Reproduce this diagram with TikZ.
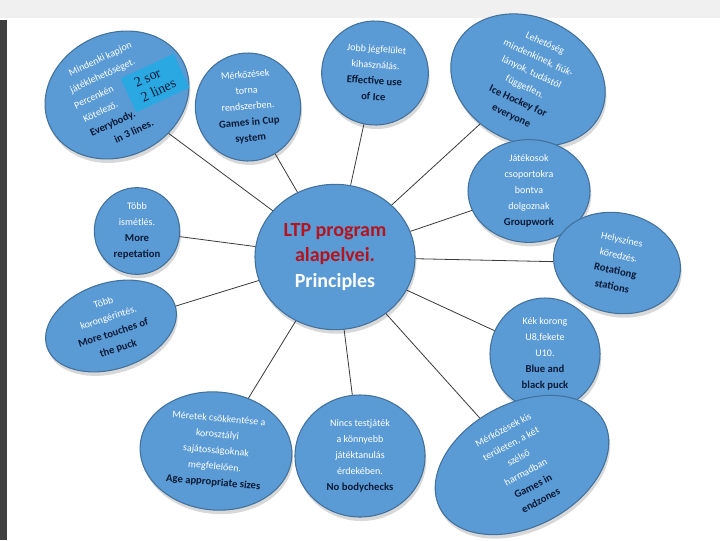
\documentclass[tikz,border=0pt]{standalone}
\usepackage{fontspec}
\setmainfont{Carlito}
\newfontfamily\boxfont{Liberation Serif}
\usepackage{xcolor}
\usetikzlibrary{shapes.geometric,shadows}

\definecolor{bubblefill}{HTML}{5B9BD5}
\definecolor{bubbleline}{HTML}{41719C}
\definecolor{entext}{HTML}{0B1A36}
\definecolor{titlered}{HTML}{B3141E}
\definecolor{boxblue}{HTML}{2AA8E2}
\definecolor{linkgray}{HTML}{3A3A3A}

% english line of a bubble
\newcommand{\en}[1]{{\color{entext}\bfseries\fontsize{8}{12}\selectfont #1}}
% room kept free for the box
\newcommand{\gap}[1]{\rule{#1}{0pt}}

\begin{document}
\begin{tikzpicture}[x=0.75pt,y=-0.75pt,
	bubble/.style={draw=bubbleline, line width=0.8pt, fill=bubblefill, ellipse, inner sep=0pt,
		align=center, text=white, font=\fontsize{7.5}{12}\selectfont,
		drop shadow={shadow xshift=1pt, shadow yshift=-3pt, opacity=0.3}},
	link/.style={draw=linkgray, line width=0.6pt}]

			\useasboundingbox (0,0) rectangle (720,540);
			\fill[white] (0,0) rectangle (720,540);
			\fill[gray!12] (0,0) rectangle (720,18);
			\fill[black!75] (0,20) rectangle (7,540);

			\node[bubble, minimum width=120pt, minimum height=109pt, font=\bfseries\fontsize{15}{19}\selectfont] (c) at (335,257)
				{\textcolor{titlered}{LTP program}\\ \textcolor{titlered}{alapelvei.}\\ Principles};

			\node[bubble, minimum width=111pt, minimum height=90pt, rotate=25] (n1) at (117,95)
				{Mindenki kapjon\\ játéklehetőséget.\gap{1em}\\ Percenkén\gap{4.4em}\\ Kötelező.\gap{4.4em}\\
				\en{Everybody.}\gap{3.2em}\\ \en{in 3 lines.}};
			\node[fill=boxblue, rotate=25, inner sep=2pt, minimum width=44pt, minimum height=28pt, align=left,
				text=entext, font=\boxfont\fontsize{10.5}{12}\selectfont] (sorbox) at (155,83) {2 sor\\2 lines};

			\node[bubble, minimum width=79pt, minimum height=81pt, rotate=5] (n2) at (248,107)
				{Mérkőzések\\ torna\\ rendszerben.\\ \en{Games in Cup}\\ \en{system}};
			\node[bubble, minimum width=80pt, minimum height=78pt, rotate=-4] (n3) at (375,73)
				{Jobb jégfelület\\ kihasználás.\\ \en{Effective use}\\ \en{of Ice}};
			\node[bubble, minimum width=120pt, minimum height=94pt, rotate=-25] (n4) at (528,80)
				{Lehetőség\\ mindenkinek, fiúk-\\ lányok, tudástól\\ független.\\ \en{Ice Hockey for}\\ \en{everyone}};
			\node[bubble, minimum width=91.5pt, minimum height=69pt] (n5) at (529,191)
				{Játékosok\\ csoportokra\\ bontva\\ dolgoznak\\ \en{Groupwork}};
			\node[bubble, minimum width=96pt, minimum height=75pt, rotate=-12] (n6) at (617,263)
				{Helyszínes\\ köredzés.\\ \en{Rotationg}\\ \en{stations}};
			\node[bubble, minimum width=82.5pt, minimum height=84pt] (n7) at (545,354)
				{Kék korong\\ U8,fekete\\ U10.\\ \en{Blue and}\\ \en{black puck}};
			\node[bubble, minimum width=139pt, minimum height=82.5pt, rotate=28] (n8) at (522,465)
				{Mérkőzések kis\\ területen, a két\\ szélső\\ harmadban\\ \en{Games in}\\ \en{endzones}};
			\node[bubble, minimum width=97.5pt, minimum height=91.5pt] (n9) at (360,456)
				{Nincs testjáték\\ a könnyebb\\ játéktanulás\\ érdekében.\\ \en{No bodychecks}};
			\node[bubble, minimum width=114pt, minimum height=88.5pt, rotate=-5] (n10) at (216,451)
				{Méretek csökkentése a\\ korosztályi\\ sajátosságoknak\\ megfelelően.\\ \en{Age appropriate sizes}};
			\node[bubble, minimum width=101pt, minimum height=64.5pt, rotate=18] (n11) at (111,326)
				{Több\\ korongérintés.\\ \en{More touches of}\\ \en{the puck}};
			\node[bubble, minimum width=64pt, minimum height=65pt] (n12) at (137,231)
				{Több\\ ismétlés.\\ \en{More}\\ \en{repetation}};

			\foreach \n in {n1,n2,n3,n4,n5,n6,n7,n8,n9,n10,n11,n12}
				\draw[link] (c) -- (\n);
		\end{tikzpicture}
\end{document}
